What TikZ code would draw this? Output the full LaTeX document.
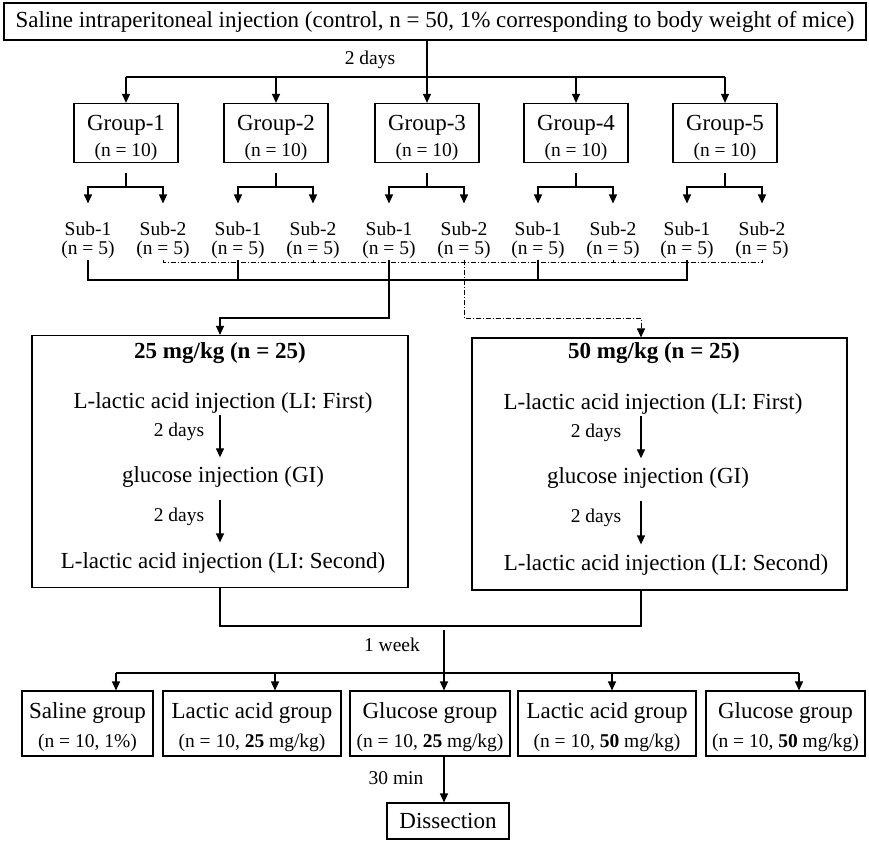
\documentclass[tikz,border=0pt]{standalone}
\usepackage{fontspec}
\setmainfont{Liberation Serif}
\usetikzlibrary{arrows.meta, positioning, calc}
\newcommand{\bigsz}{\fontsize{23}{27}\selectfont}
\newcommand{\smallsz}{\fontsize{19.5}{22}\selectfont}

\begin{document}
\begin{tikzpicture}[x=1pt, y=-1pt,
  box/.style={rectangle, draw=black, line width=1.1pt, align=center, inner sep=2pt, font=\bigsz},
  grpbox/.style={box, minimum width=104pt, minimum height=54pt},
  endbox/.style={box, minimum height=65pt},
  dosebox/.style={box, minimum width=376pt, minimum height=252pt},
  subtxt/.style={align=center, inner sep=1pt, font=\smallsz},
  stage/.style={inner sep=1pt, font=\bigsz},
  lbl/.style={inner sep=1pt, font=\smallsz},
  line/.style={draw=black, line width=1.3pt},
  arr/.style={line, -{Triangle[length=9pt, width=8pt]}},
  dashdot/.style={draw=black, line width=1pt, dash pattern=on 5pt off 2pt on 1pt off 2pt},
  darr/.style={dashdot, -{Triangle[length=9pt, width=8pt]}}
]
\useasboundingbox (0,0) rectangle (869,841);

% Saline control
\node[box, minimum width=862pt, minimum height=37pt] (saline) at (435,21.5) {Saline intraperitoneal injection (control, n = 50, 1\% corresponding to body weight of mice)};
\node[lbl] (d0) at (370,60) {2 days};

% Groups and subgroups
\foreach \i/\x in {1/126,2/276,3/427,4/576,5/725} {
  \node[grpbox] (g\i) at (\x,133) {\rule{0pt}{25pt}Group-\i\\[-1pt]{\smallsz (n = 10)}};
  \node[subtxt] (sa\i) at (\x-38,240) {Sub-1\\[-3pt](n = 5)};
  \node[subtxt] (sb\i) at (\x+37,240) {Sub-2\\[-3pt](n = 5)};
  \coordinate (j\i) at (\x,187);
  \draw[line] ([yshift=-10pt]g\i.south) -- (j\i);
  \draw[arr, shorten >=17pt] (j\i) -| (sa\i.north);
  \draw[arr, shorten >=17pt] (j\i) -| (sb\i.north);
}

\coordinate (bar) at (0,77);
\draw[arr] (saline.south -| g3) -- (g3.north);
\draw[line] (g1.north |- bar) -- (g5.north |- bar);
\foreach \i in {1,2,4,5} \draw[arr] (g\i.north |- bar) -- (g\i.north);

% Pooling of subgroups
\coordinate (solid) at (0,280);
\coordinate (dots) at (0,262);
\coordinate (low) at (0,318);
\coordinate (c50) at (641,318);
\draw[line] (sa1.south) |- (sa5.south |- solid) -- (sa5.south);
\foreach \i in {2,4} \draw[line] (sa\i.south) -- (sa\i.south |- solid);
\draw[dashdot] (sb1.south) |- (sb5.south |- dots) -- (sb5.south);
\foreach \i in {2,4} \draw[dashdot] (sb\i.south) -- (sb\i.south |- dots);

% Dose boxes
\node[dosebox] (d25) at (220,461.5) {};
\node[dosebox, minimum width=375pt] (d50) at (659.5,464) {};

\node[stage, font=\bigsz\bfseries] (t25) at (220,353) {25 mg/kg (n = 25)};
\node[stage] (lf25) at (223,403) {L-lactic acid injection (LI: First)};
\node[stage] (gi25) at (223,477) {glucose injection (GI)};
\node[stage] (ls25) at (223,563) {L-lactic acid injection (LI: Second)};
\node[lbl] (w25a) at (179,432) {2 days};
\node[lbl] (w25b) at (179,517) {2 days};
\draw[arr, shorten >=8pt] (lf25.south -| d25) -- (gi25.north -| d25);
\draw[arr, shorten <=11pt, shorten >=9pt] (gi25.south -| d25) -- (ls25.north -| d25);

\node[stage, font=\bigsz\bfseries] (t50) at (654,353) {50 mg/kg (n = 25)};
\node[stage] (lf50) at (653,404) {L-lactic acid injection (LI: First)};
\node[stage] (gi50) at (648,478) {glucose injection (GI)};
\node[stage] (ls50) at (666,565) {L-lactic acid injection (LI: Second)};
\node[lbl] (w50a) at (596,433) {2 days};
\node[lbl] (w50b) at (596,518) {2 days};
\draw[arr, shorten >=8pt] (lf50.south -| c50) -- (gi50.north -| c50);
\draw[arr, shorten <=11pt, shorten >=9pt] (gi50.south -| c50) -- (ls50.north -| c50);

\draw[arr] (sa3.south) |- (d25.north |- low) -- (d25.north);
\draw[darr] (sb3.south) |- (c50) -- (c50 |- d50.north);

% Final groups
\coordinate (merge) at (0,626);
\coordinate (wk) at (444,630);
\foreach \i/\x in {1/116,2/275,3/444,4/612,5/799} \coordinate (a\i) at (\x,673);
\draw[line] (d25.south) |- (c50 |- merge) -- (c50 |- d50.south);
\node[lbl] (w1) at (392,645) {1 week};

\node[endbox, minimum width=131pt] (e1) at (87.5,723.5) {\rule{0pt}{23pt}Saline group\\[2pt]{\smallsz (n = 10, 1\%)}};
\node[endbox, minimum width=178pt] (e2) at (252,723.5) {\rule{0pt}{23pt}Lactic acid group\\[2pt]{\smallsz (n = 10, \textbf{25} mg/kg)}};
\node[endbox, minimum width=160pt] (e3) at (430,723.5) {\rule{0pt}{23pt}Glucose group\\[2pt]{\smallsz (n = 10, \textbf{25} mg/kg)}};
\node[endbox, minimum width=178pt] (e4) at (607,723.5) {\rule{0pt}{23pt}Lactic acid group\\[2pt]{\smallsz (n = 10, \textbf{50} mg/kg)}};
\node[endbox, minimum width=159pt] (e5) at (785.5,723.5) {\rule{0pt}{23pt}Glucose group\\[2pt]{\smallsz (n = 10, \textbf{50} mg/kg)}};

\draw[line] (a1) -- (a5);
\foreach \i in {1,2,4,5} \draw[arr] (a\i) -- (a\i |- e\i.north);
\draw[arr] (wk) -- (wk |- e3.north);

\node[box, minimum width=122pt, minimum height=36pt] (dis) at (448,821) {Dissection};
\node[lbl] (m30) at (396,778) {30 min};
\draw[arr] (wk |- e3.south) -- (wk |- dis.north);

\end{tikzpicture}
\end{document}
